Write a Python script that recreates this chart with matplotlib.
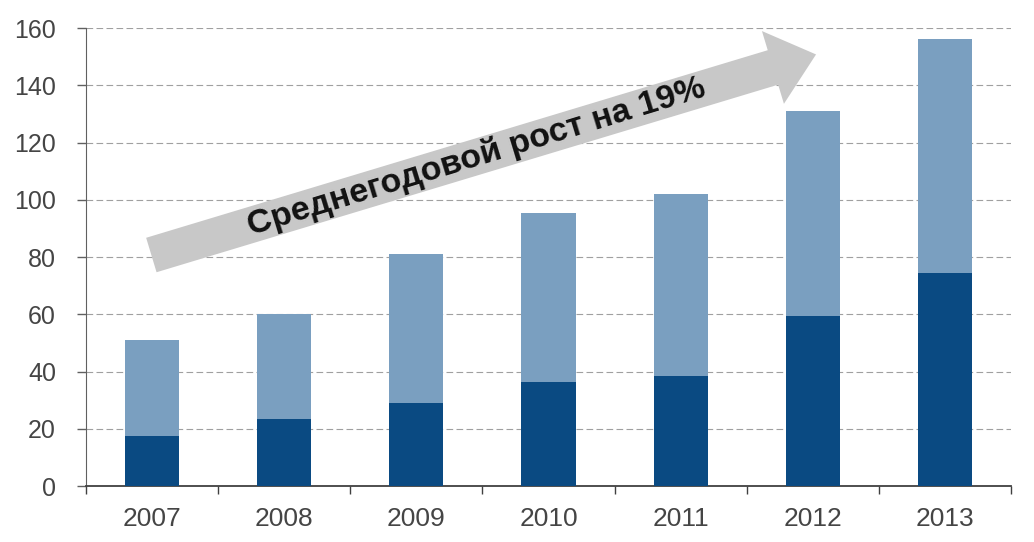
import numpy as np
import matplotlib
matplotlib.use("Agg")
import matplotlib.pyplot as plt
from matplotlib.patches import Polygon

years = ["2007", "2008", "2009", "2010", "2011", "2012", "2013"]
dark_part = [17.5, 23.5, 29, 36.5, 38.5, 59.5, 74.5]
total = [51, 60, 81, 95.5, 102, 131, 156]
light_part = [t - d for t, d in zip(total, dark_part)]
arrow_text = "Среднегодовой рост на 19%"

dark_col = "#0a4a82"
light_col = "#7a9fc0"
txt_col = "#454545"

plt.rcParams['font.family'] = ['Liberation Sans', 'DejaVu Sans']

fig = plt.figure(figsize=(10.34, 5.42), dpi=100)
ax = fig.add_axes([0.083, 0.1033, 0.895, 0.845])

x = np.arange(len(years))
ax.bar(x, dark_part, width=0.41, color=dark_col, zorder=3)
ax.bar(x, light_part, width=0.41, bottom=dark_part, color=light_col, zorder=3)

ax.set_xlim(-0.5, 6.5)
ax.set_ylim(0, 160)
ax.set_yticks(range(0, 161, 20))
ax.set_xticks(x)
ax.set_xticklabels(years)
ax.set_xticks(np.arange(-0.5, 7, 1), minor=True)

ax.yaxis.grid(True, linestyle=(0, (6, 3)), color="#a0a0a0", linewidth=0.8, zorder=0)
ax.tick_params(axis="y", direction="out", length=6.5, width=1, color="#606060",
               labelsize=18, labelcolor=txt_col, pad=15)
ax.tick_params(axis="x", which="major", length=0, labelsize=19, labelcolor=txt_col, pad=15)
ax.tick_params(axis="x", which="minor", direction="out", length=6, width=1, color="#404040")

for s in ["top", "right"]:
    ax.spines[s].set_visible(False)
ax.spines["left"].set_color("#606060")
ax.spines["bottom"].set_color("#404040")
ax.spines["bottom"].set_linewidth(1.3)

# growth arrow, pixel offsets from axes bottom-left, converted to axes fraction
ang = np.deg2rad(16.8)
d = np.array([np.cos(ang), np.sin(ang)])
n = np.array([-np.sin(ang), np.cos(ang)])
W, H = 925.0, 458.0
start = np.array([151.5 - 86, 486 - 255.0])
L_shaft = 649.0
hw_s, hw_h, L_head = 18.0, 38.0, 45.0
p0 = start + n * hw_s
p1 = start + d * L_shaft + n * hw_s
p2 = start + d * L_shaft + n * hw_h
p3 = start + d * (L_shaft + L_head)
p4 = start + d * L_shaft - n * hw_h
p5 = start + d * L_shaft - n * hw_s
p6 = start - n * hw_s
pts = np.array([p0, p1, p2, p3, p4, p5, p6]) / np.array([W, H])
ax.add_patch(Polygon(pts, closed=True, transform=ax.transAxes, facecolor="#c8c8c8",
                     edgecolor="none", zorder=4))
c = (start + d * 339) / np.array([W, H])
ax.text(c[0], c[1], arrow_text, transform=ax.transAxes, rotation=17,
        rotation_mode="anchor", ha="center", va="center", fontsize=24.5,
        fontweight="bold", color="#111111", zorder=5)

fig.savefig("out.png", dpi=100)
